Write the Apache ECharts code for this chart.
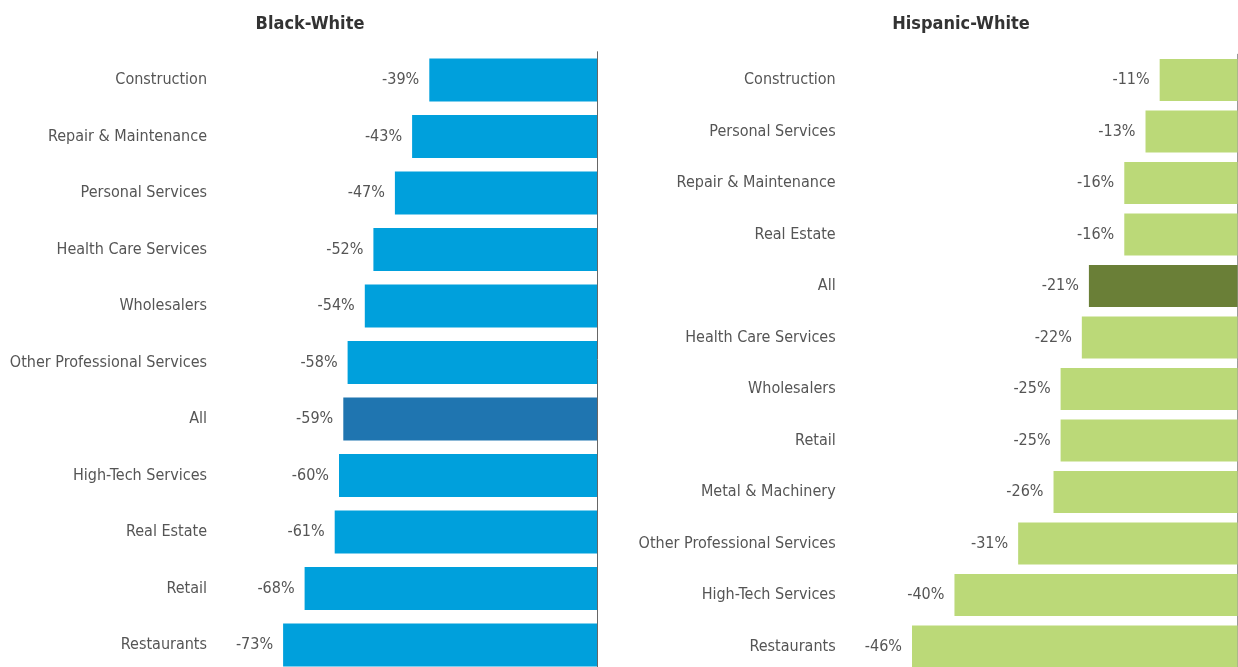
<!DOCTYPE html>
<html>
<head>
<meta charset="utf-8">
<script src="https://cdn.jsdelivr.net/npm/echarts@6/dist/echarts.min.js"></script>
<style>
  html, body { margin: 0; padding: 0; background: #fff; }
  #chart { width: 1238px; height: 667px; }
</style>
</head>
<body>
<div id="chart"></div>
<script>
// Black-White gap by industry
const bwCategories = ['Construction', 'Repair & Maintenance', 'Personal Services', 'Health Care Services',
  'Wholesalers', 'Other Professional Services', 'All', 'High-Tech Services', 'Real Estate', 'Retail', 'Restaurants'];
const bwValues = [-39, -43, -47, -52, -54, -58, -59, -60, -61, -68, -73];

// Hispanic-White gap by industry
const hwCategories = ['Construction', 'Personal Services', 'Repair & Maintenance', 'Real Estate', 'All',
  'Health Care Services', 'Wholesalers', 'Retail', 'Metal & Machinery', 'Other Professional Services',
  'High-Tech Services', 'Restaurants'];
const hwValues = [-11, -13, -16, -16, -21, -22, -25, -25, -26, -31, -40, -46];

const FONT = '"Liberation Sans Narrow", "DejaVu Sans Condensed", sans-serif';

function barData (cats, vals, color, allColor) {
  return vals.map((v, i) => ({
    value: v,
    itemStyle: { color: cats[i] === 'All' ? allColor : color }
  }))
}

let chart = echarts.init(document.getElementById('chart'));
chart.setOption({
  animation: false,
  title: [
    { text: 'Black-White', left: 305, top: 10, textAlign: 'center',
      textStyle: { color: '#333', fontSize: 18, fontWeight: 'bold', fontFamily: FONT } },
    { text: 'Hispanic-White', left: 956, top: 10, textAlign: 'center',
      textStyle: { color: '#333', fontSize: 18, fontWeight: 'bold', fontFamily: FONT } }
  ],
  grid: [
    { left: 253, width: 344, top: 51.75, height: 621.5, outerBoundsMode: 'none' },
    { left: 883.7, width: 353.8, top: 54.25, height: 618, outerBoundsMode: 'none' }
  ],
  xAxis: [
    { gridIndex: 0, type: 'value', min: -80, max: 0, show: false },
    { gridIndex: 1, type: 'value', min: -50, max: 0, show: false }
  ],
  yAxis: [
    { gridIndex: 0, type: 'category', data: bwCategories, inverse: true, position: 'left',
      axisLine: { show: false, onZero: false }, axisTick: { show: false },
      axisLabel: { margin: 46, color: '#555', fontSize: 16, fontFamily: FONT } },
    { gridIndex: 0, type: 'category', data: bwCategories, inverse: true, position: 'right',
      axisLine: { show: true, onZero: false, lineStyle: { color: '#666', width: 1 } },
      axisTick: { show: false }, axisLabel: { show: false } },
    { gridIndex: 1, type: 'category', data: hwCategories, inverse: true, position: 'left',
      axisLine: { show: false, onZero: false }, axisTick: { show: false },
      axisLabel: { margin: 48, color: '#555', fontSize: 16, fontFamily: FONT } },
    { gridIndex: 1, type: 'category', data: hwCategories, inverse: true, position: 'right',
      axisLine: { show: true, onZero: false, lineStyle: { color: '#999', width: 1 } },
      axisTick: { show: false }, axisLabel: { show: false } }
  ],
  series: [
    {
      type: 'bar', xAxisIndex: 0, yAxisIndex: 0, barWidth: 43,
      data: barData(bwCategories, bwValues, '#00a0dc', '#1f75b0'),
      label: { show: true, position: 'left', distance: 10, color: '#555', fontSize: 16,
        fontFamily: FONT, formatter: '{c}%' }
    },
    {
      type: 'bar', xAxisIndex: 1, yAxisIndex: 2, barWidth: 42,
      data: barData(hwCategories, hwValues, '#bbd978', '#6a7f37'),
      label: { show: true, position: 'left', distance: 10, color: '#555', fontSize: 16,
        fontFamily: FONT, formatter: '{c}%' }
    }
  ]
});
</script>
</body>
</html>
